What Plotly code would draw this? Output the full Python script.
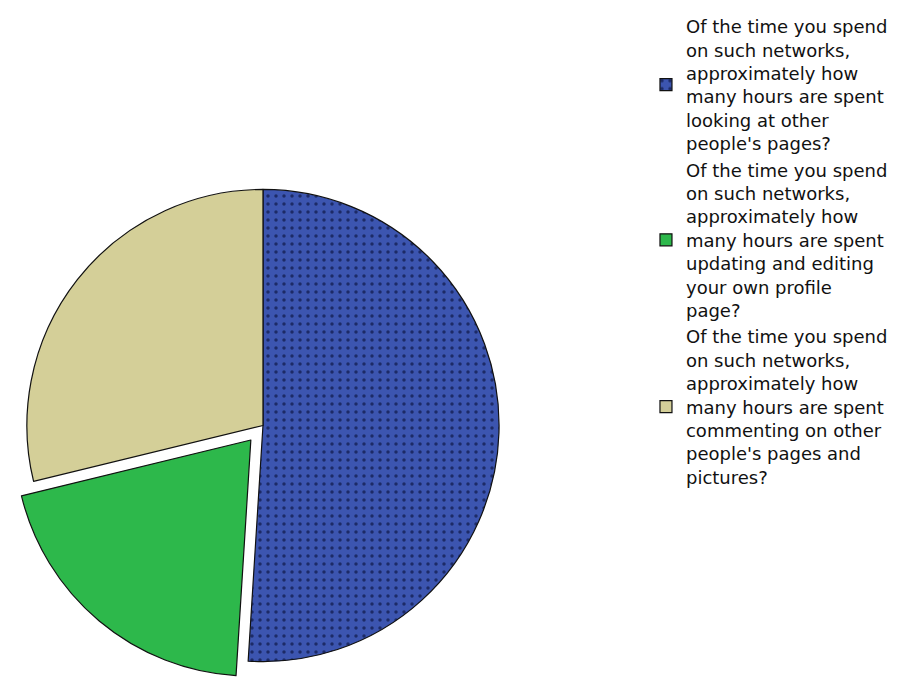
import plotly.graph_objects as go

# slices of the pie (share of time spent on social networks)
labels = [
    "Of the time you spend<br>on such networks,<br>approximately how<br>many hours are spent<br>looking at other<br>people's pages?",
    "Of the time you spend<br>on such networks,<br>approximately how<br>many hours are spent<br>updating and editing<br>your own profile<br>page?",
    "Of the time you spend<br>on such networks,<br>approximately how<br>many hours are spent<br>commenting on other<br>people's pages and<br>pictures?",
]
values = [51.0, 20.2, 28.8]
colors = ["#3c55b0", "#2db84b", "#d4cf98"]
pulls = [0, 0.08, 0]

fig = go.Figure(go.Pie(
    labels=labels,
    values=values,
    sort=False,
    direction="clockwise",
    rotation=0,
    pull=pulls,
    textinfo="none",
    hoverinfo="label+percent",
    marker=dict(
        colors=colors,
        line=dict(color="#111111", width=1.2),
        pattern=dict(shape=[".", "", ""], fgcolor="#1a2660",
                     bgcolor=colors, fgopacity=0.9, size=8, solidity=0.15),
    ),
    domain=dict(x=[0, 0.5537], y=[0.0225, 0.7638]),
))

fig.update_layout(
    width=921, height=688,
    margin=dict(l=0, r=0, t=0, b=0),
    paper_bgcolor="white",
    plot_bgcolor="white",
    font=dict(family="DejaVu Sans", color="#111111"),
    legend=dict(
        x=0.6927, y=1, xanchor="left", yanchor="top",
        font=dict(size=18, family="DejaVu Sans", color="#111111"),
        bgcolor="rgba(0,0,0,0)",
    ),
)

fig.write_html("out.html")
